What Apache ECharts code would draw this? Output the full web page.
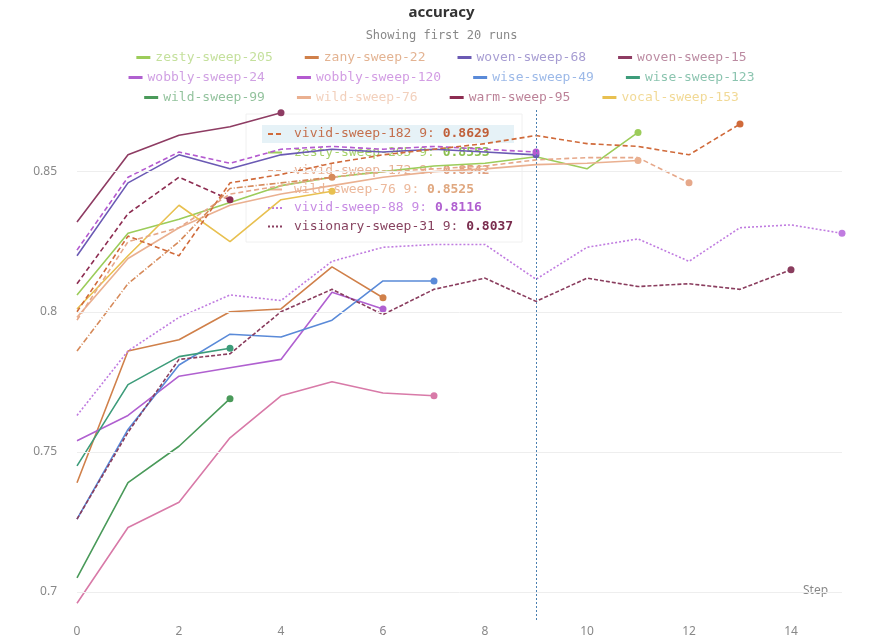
<!DOCTYPE html>
<html>
<head>
<meta charset="utf-8">
<script src="https://cdn.jsdelivr.net/npm/echarts@6/dist/echarts.min.js"></script>
<style>html,body{margin:0;padding:0;background:#fff}#container{width:883px;height:640px}</style>
</head>
<body>
<div id="container"></div>
<script>
var steps = [0, 1, 2, 3, 4, 5, 6, 7, 8, 9, 10, 11, 12, 13, 14, 15];

// each run: accuracy per step (null = not logged)
var woven15 = [0.832, 0.856, 0.863, 0.866, 0.871];
var woven68 = [0.820, 0.846, 0.856, 0.851, 0.856, 0.858, 0.857, 0.858, 0.857, 0.856];
var wobbly120 = [0.822, 0.848, 0.857, 0.853, 0.858, 0.859, 0.858, 0.859, 0.858, 0.857];
var warm95 = [0.810, 0.835, 0.848, 0.840];
var vivid88 = [0.763, 0.786, 0.798, 0.806, 0.804, 0.818, 0.823, 0.824, 0.824, 0.8116, 0.823, 0.826, 0.818, 0.830, 0.831, 0.828];
var visionary31 = [0.726, 0.757, 0.783, 0.785, 0.800, 0.808, 0.799, 0.808, 0.812, 0.8037, 0.812, 0.809, 0.810, 0.808, 0.815];
var wise49 = [0.726, 0.758, 0.781, 0.792, 0.791, 0.797, 0.811, 0.811];
var wobbly24 = [0.754, 0.763, 0.777, 0.780, 0.783, 0.807, 0.801];
var wise123 = [0.745, 0.774, 0.784, 0.787];
var wild99 = [0.705, 0.739, 0.752, 0.769];
var vintage140 = [0.696, 0.723, 0.732, 0.755, 0.770, 0.775, 0.771, 0.770];
var zesty205 = [0.806, 0.828, 0.833, 0.839, 0.845, 0.848, 0.850, 0.852, 0.853, 0.8553, 0.851, 0.864];
var zany22 = [0.739, 0.786, 0.790, 0.800, 0.801, 0.816, 0.805];
var vivid182 = [0.800, 0.827, 0.820, 0.846, 0.849, 0.853, 0.856, 0.858, 0.860, 0.8629, 0.860, 0.859, 0.856, 0.867];
var vivid172 = [0.797, 0.825, 0.830, 0.842, 0.845, 0.848, 0.850, 0.851, 0.852, 0.8542, 0.855, 0.855, 0.846];
var wild76 = [0.798, 0.819, 0.830, 0.838, 0.842, 0.845, 0.848, 0.850, 0.851, 0.8525, 0.853, 0.854];
var vocal153 = [0.801, 0.820, 0.838, 0.825, 0.840, 0.843];
var vapid61 = [0.786, 0.810, 0.825, 0.844, 0.846, 0.848];

var yTicks = [0.7, 0.75, 0.8, 0.85];

var runs = [
  { name: "zesty-sweep-205", data: zesty205, color: "#9ccc5a", type: "solid" },
  { name: "zany-sweep-22", data: zany22, color: "#d0804a", type: "solid" },
  { name: "woven-sweep-68", data: woven68, color: "#6b5ab4", type: "solid" },
  { name: "woven-sweep-15", data: woven15, color: "#8e3c63", type: "solid" },
  { name: "wobbly-sweep-24", data: wobbly24, color: "#b060d0", type: "solid" },
  { name: "wobbly-sweep-120", data: wobbly120, color: "#b45ad0", type: [5, 3] },
  { name: "wise-sweep-49", data: wise49, color: "#5a8ad8", type: "solid" },
  { name: "wise-sweep-123", data: wise123, color: "#3d9c7a", type: "solid" },
  { name: "wild-sweep-99", data: wild99, color: "#4a9a5a", type: "solid" },
  { name: "wild-sweep-76", data: wild76, color: "#eab090", type: "solid" },
  { name: "warm-sweep-95", data: warm95, color: "#8d2d52", type: [5, 3] },
  { name: "vocal-sweep-153", data: vocal153, color: "#e8c050", type: "solid" },
  { name: "vivid-sweep-182", data: vivid182, color: "#d06a3a", type: [5, 3] },
  { name: "vivid-sweep-172", data: vivid172, color: "#e6a88a", type: [5, 3] },
  { name: "vivid-sweep-88", data: vivid88, color: "#c07ce0", type: [2, 2] },
  { name: "visionary-sweep-31", data: visionary31, color: "#8a3d5e", type: [4, 2] },
  { name: "vintage-sweep-140", data: vintage140, color: "#d87aa8", type: "solid" },
  { name: "vapid-sweep-61", data: vapid61, color: "#d68a5a", type: [6, 2, 1, 2] }
];

var series = runs.map(function (r) {
  var pts = r.data.map(function (v, i) {
    var last = i === r.data.length - 1;
    return { value: [steps[i], v], symbol: last ? "circle" : "none", symbolSize: 7 };
  });
  return {
    name: r.name, type: "line", data: pts, symbol: "circle", showSymbol: true,
    color: r.color, lineStyle: { width: 1.6, type: r.type, color: r.color },
    itemStyle: { color: r.color }, silent: true, animation: false, z: 3
  };
});

// grid lines and the hover marker line
series.push({
  type: "line", data: [], silent: true, animation: false,
  markLine: {
    symbol: "none", silent: true, label: { show: false },
    data: yTicks.map(function (t) { return { yAxis: t, lineStyle: { color: "#eeeeee", type: "solid", width: 1 } }; })
      .concat([{ xAxis: 9, lineStyle: { color: "#4a7fb0", type: [2, 2], width: 1 } }])
  }
});

function legendRow(names, top) {
  return {
    top: top, left: "center", data: names, itemWidth: 14, itemHeight: 3, itemGap: 32,
    icon: "rect", selectedMode: false,
    textStyle: { fontFamily: "DejaVu Sans Mono", fontSize: 13, color: "inherit", opacity: 0.6 }
  };
}

var tipRows = [
  ["vivid-sweep-182", "0.8629", "#d06a3a", "#c0603a", [5, 3]],
  ["zesty-sweep-205", "0.8553", "#9ccc5a", "#8cc050", "solid"],
  ["vivid-sweep-172", "0.8542", "#e6a88a", "#e0a080", [5, 3]],
  ["wild-sweep-76", "0.8525", "#eab090", "#e0a880", "solid"],
  ["vivid-sweep-88", "0.8116", "#c07ce0", "#b060d0", [2, 2]],
  ["visionary-sweep-31", "0.8037", "#8a3d5e", "#7a2d4e", [2, 2]]
];
var tipEls = [
  { type: "rect", shape: { x: 246, y: 114, width: 276, height: 128 }, style: { fill: "rgba(255,255,255,0.95)", stroke: "#f0f0f0" } },
  { type: "rect", shape: { x: 262, y: 125, width: 252, height: 18 }, style: { fill: "#e6f2f7" } }
];
tipRows.forEach(function (r, i) {
  var y = 134 + i * 18.5;
  tipEls.push({ type: "line", shape: { x1: 268, y1: y, x2: 282, y2: y }, style: { stroke: r[2], lineWidth: 2, lineDash: r[4] === "solid" ? null : r[4] } });
  tipEls.push({
    type: "text", x: 294, y: y, style: {
      text: "{n|" + r[0] + " 9: }{v|" + r[1] + "}", verticalAlign: "middle",
      rich: {
        n: { fontFamily: "DejaVu Sans Mono", fontSize: 13, fill: i === 0 || i === 5 ? r[3] : r[2], opacity: 0.9 },
        v: { fontFamily: "DejaVu Sans Mono", fontSize: 13, fontWeight: "bold", fill: r[3] }
      }
    }
  });
});

var myChart = echarts.init(document.getElementById("container"), null, { renderer: "canvas" });
var option = {
  animation: false,
  title: {
    text: "accuracy", left: "center", top: 0,
    textStyle: { fontFamily: "Noto Sans", fontSize: 15, fontWeight: "bold", color: "#333" },
    subtext: "Showing first 20 runs", itemGap: 10,
    subtextStyle: { fontFamily: "DejaVu Sans Mono", fontSize: 12, color: "#888" }
  },
  legend: [
    legendRow(runs.slice(0, 4).map(function (r) { return r.name; }), 46),
    legendRow(runs.slice(4, 8).map(function (r) { return r.name; }), 66),
    legendRow(runs.slice(8, 12).map(function (r) { return r.name; }), 86)
  ],
  grid: { left: 77, right: 41, top: 110, bottom: 20 },
  xAxis: {
    type: "value", min: 0, max: 15, interval: 2,
    axisLine: { show: false }, axisTick: { show: false }, splitLine: { show: false },
    axisLabel: { showMaxLabel: false, color: "#888", fontFamily: "Noto Sans", fontSize: 12, margin: 6 }
  },
  yAxis: {
    type: "value", min: 0.69, max: 0.872, interval: 0.01,
    axisLine: { show: false }, axisTick: { show: false }, splitLine: { show: false },
    axisLabel: {
      showMaxLabel: false, color: "#888", fontFamily: "Noto Sans", fontSize: 12, margin: 20,
      formatter: function (v) {
        var k = Math.round(v * 100);
        return k % 5 === 0 ? String(k / 100) : "";
      }
    }
  },
  graphic: [
    { type: "text", x: 803, y: 585, style: { text: "Step", fontFamily: "Noto Sans", fontSize: 12, fill: "#888" } },
    { type: "group", zlevel: 5, z: 100, children: tipEls }
  ],
  series: series
};
myChart.setOption(option);
window.addEventListener("resize", myChart.resize);
</script>
</body>
</html>
